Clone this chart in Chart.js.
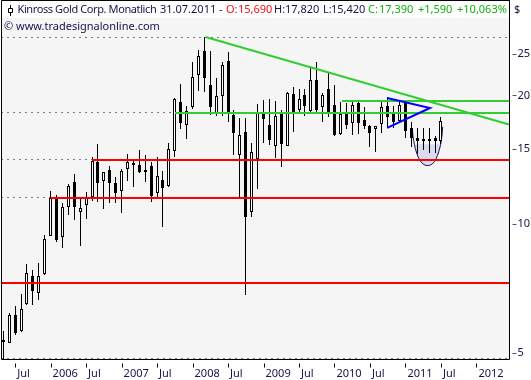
<!DOCTYPE html>
<html>
<head>
    <title>Kinross Gold Corp. Monatlich</title>
    <script src="https://cdn.jsdelivr.net/npm/chart.js"></script>
    <style>
        html, body { margin: 0; padding: 0; background: #fff; }
        canvas { display: block; }
    </style>
</head>
<body>
    <canvas id="priceChart" width="531" height="380"></canvas>

    <script>
        // Monthly candles, May 2005 to Jul 2011
        const opens = [5.37, 5.28, 6.14, 5.63, 6.51, 7.58, 6.90, 7.66, 9.39, 11.52, 9.34, 10.97, 12.55, 10.68, 11.09,
            11.58, 13.98, 12.62, 13.39, 12.49, 11.96, 13.46, 13.90, 13.76, 13.39, 13.68, 11.83, 12.69, 12.29, 14.83,
            19.31, 17.06, 18.79, 22.33, 25.41, 21.16, 18.20, 19.94, 24.07, 18.00, 14.51, 16.43, 10.68, 14.21, 18.20,
            17.06, 15.24, 18.10, 15.24, 20.16, 18.49, 20.05, 18.39, 21.73, 18.79, 20.71, 19.00, 16.25, 18.10, 17.24,
            19.20, 17.52, 16.97, 16.70, 17.15, 18.90, 18.10, 17.43, 19.20, 16.79, 15.91, 15.82, 15.82, 15.91, 15.69];
        const highs = [5.63, 6.20, 6.44, 6.87, 8.08, 7.82, 8.12, 9.44, 11.96, 11.70, 11.21, 12.42, 13.11, 11.52, 11.90,
            14.36, 15.40, 13.25, 13.68, 12.90, 13.46, 14.59, 14.21, 14.91, 14.51, 13.98, 14.36, 13.32, 15.48, 19.73,
            21.27, 18.90, 23.94, 25.54, 27.39, 25.41, 21.97, 23.94, 25.27, 18.49, 17.71, 17.71, 15.48, 19.10, 19.52,
            19.62, 19.41, 18.49, 20.37, 20.93, 20.71, 20.71, 23.19, 23.94, 20.26, 22.57, 21.16, 19.31, 19.20, 19.31,
            19.31, 18.79, 17.06, 16.97, 19.31, 19.83, 18.90, 19.31, 19.31, 17.34, 16.79, 16.79, 16.79, 16.08, 17.82];
        const lows = [4.84, 5.28, 5.51, 5.60, 6.48, 6.48, 6.65, 7.62, 9.39, 9.09, 8.80, 10.51, 10.23, 8.90, 10.29,
            11.33, 11.27, 10.85, 11.21, 11.21, 10.62, 12.62, 12.22, 13.18, 12.55, 11.27, 11.52, 9.85, 12.22, 14.36,
            16.70, 15.82, 18.59, 20.49, 20.37, 18.00, 17.91, 17.91, 17.34, 14.51, 11.52, 6.83, 10.40, 12.09, 15.48,
            15.32, 14.28, 13.61, 15.24, 16.43, 18.29, 17.91, 18.29, 18.29, 17.34, 17.81, 16.08, 16.17, 16.70, 16.17,
            16.25, 16.70, 15.16, 14.75, 16.34, 16.79, 16.79, 17.34, 15.91, 15.16, 14.59, 14.91, 14.67, 14.67, 15.42];
        const closes = [5.35, 6.14, 5.57, 6.34, 7.70, 6.98, 7.58, 9.24, 11.52, 9.19, 10.97, 12.29, 10.97, 10.91, 11.52,
            14.05, 12.49, 13.25, 12.49, 11.83, 13.32, 13.98, 13.76, 13.25, 13.25, 11.64, 12.97, 12.16, 14.99, 19.62,
            17.24, 18.39, 22.09, 24.73, 21.97, 18.79, 19.94, 23.56, 18.20, 16.34, 16.17, 10.40, 14.75, 18.29, 17.62,
            15.74, 17.91, 15.40, 20.26, 18.29, 19.62, 18.90, 21.73, 18.49, 20.05, 18.29, 16.17, 18.10, 17.06, 19.00,
            17.24, 16.97, 16.34, 16.97, 18.79, 17.81, 17.34, 19.00, 16.52, 15.91, 15.65, 15.74, 15.74, 15.65, 17.39];

        const xTicks = [2, 8, 14, 20, 26, 32, 38, 44, 50, 56, 62, 68, 74, 80];
        const xLabels = ['Jul', '2006', 'Jul', '2007', 'Jul', '2008', 'Jul', '2009', 'Jul', '2010', 'Jul', '2011', 'Jul', '2012'];
        const yTicks = [5, 10, 15, 20, 25];

        // Hand drawn lines: [month index, price]
        const xMin = -0.304;
        const xMax = 85.59;
        const greenLow = [[29.03, 18.19], [xMax, 18.19]];
        const greenHigh = [[57.27, 19.41], [xMax, 19.41]];
        const greenFalling = [[34.19, 27.39], [85.5, 17.11]];
        const redHigh = [[15, 14.13], [xMax, 14.13]];
        const redMid = [[8, 11.52], [xMax, 11.52]];
        const redLow = [[xMin, 7.29], [xMax, 7.29]];
        const dottedLines = [
            [[xMin, 27.32], [xMax, 27.32]],
            [[xMin, 18.24], [29.03, 18.24]],
            [[xMin, 14.17], [15, 14.17]],
            [[xMin, 11.55], [8, 11.55]],
            [[xMin, 4.854], [xMax, 4.854]]
        ];
        const blueWedge = [[64.9, 19.73], [72.15, 18.69], [64.9, 16.79]];
        const cupArc = [[69.16, 16.76], [69.28, 16.02], [69.5, 15.38], [69.9, 14.65], [70.46, 14.08], [71.14, 13.78],
            [71.86, 13.71], [72.54, 13.83], [73.16, 14.21], [73.62, 14.77], [73.96, 15.38], [74.18, 16.17], [74.3, 16.9]];
        const cupFillTop = 15.38;

        const ink = '#14144a';
        const textFont = '11px "Noto Sans"';

        function toPoints(line) {
            return line.map(p => ({x: p[0], y: p[1]}));
        }

        function lineSet(line, color, width, order, extra) {
            return Object.assign({
                type: 'line',
                data: toPoints(line),
                borderColor: color,
                borderWidth: width,
                pointRadius: 0,
                fill: false,
                order: order
            }, extra || {});
        }

        const candleMonths = opens.map((o, i) => i);

        // Keeps candles on whole pixels, the reference has no soft edges
        const snapCandles = {
            id: 'snapCandles',
            beforeDatasetsDraw(chart) {
                chart.getSortedVisibleDatasetMetas().forEach(meta => {
                    if (meta.type !== 'bar') return;
                    meta.data.forEach(bar => {
                        bar.x = Math.floor(bar.x) + 0.5;
                        const top = Math.round(Math.min(bar.y, bar.base));
                        let bottom = Math.round(Math.max(bar.y, bar.base));
                        if (bottom - top < 2) bottom = top + 2;
                        bar.y = top;
                        bar.base = bottom;
                    });
                });
            }
        };

        function drawText(ctx, parts) {
            parts.forEach(p => {
                ctx.fillStyle = p[3] || ink;
                ctx.letterSpacing = p[4] || '0px';
                ctx.fillText(p[0], p[1], p[2]);
            });
        }

        const frame = {
            id: 'frame',
            beforeDraw(chart) {
                const {ctx, chartArea: area} = chart;
                ctx.save();
                ctx.fillStyle = '#fff';
                ctx.fillRect(0, 0, chart.width, chart.height);
                ctx.fillStyle = '#f5f5f5';
                ctx.fillRect(area.left, area.top, area.right - area.left, area.bottom - area.top);
                ctx.restore();
            },
            afterDraw(chart) {
                const {ctx, chartArea: area, scales} = chart;
                ctx.save();
                ctx.strokeStyle = '#000';
                ctx.lineWidth = 1;
                ctx.beginPath();
                ctx.moveTo(area.right, 0.5);
                ctx.lineTo(area.left, 0.5);
                ctx.lineTo(area.left, area.bottom);
                ctx.lineTo(area.right, area.bottom);
                ctx.lineTo(area.right, 0);
                ctx.stroke();

                // tick marks stand off from the axis
                ctx.beginPath();
                scales.x.ticks.forEach(t => {
                    const x = Math.round(scales.x.getPixelForValue(t.value)) + 0.5;
                    ctx.moveTo(x, area.bottom + 4);
                    ctx.lineTo(x, area.bottom + 8);
                });
                ctx.stroke();
                ctx.strokeStyle = '#555';
                ctx.beginPath();
                scales.y.ticks.forEach(t => {
                    const y = Math.round(scales.y.getPixelForValue(t.value)) + 0.5;
                    ctx.moveTo(area.right + 3, y);
                    ctx.lineTo(area.right + 7, y);
                });
                ctx.stroke();

                // candle icon in the header
                ctx.strokeStyle = '#000';
                ctx.beginPath();
                ctx.moveTo(10.5, 5);
                ctx.lineTo(10.5, 8);
                ctx.moveTo(10.5, 13);
                ctx.lineTo(10.5, 16);
                ctx.rect(8.5, 8.5, 4, 4);
                ctx.stroke();

                ctx.font = textFont;
                ctx.textBaseline = 'middle';
                ctx.textAlign = 'left';
                const red = '#f01010';
                const green = '#10b010';
                drawText(ctx, [
                    ['Kinross Gold Corp. Monatlich', 17.5, 10, ink, '-0.4px'],
                    ['31.07.2011', 160, 10],
                    ['-', 219, 10],
                    ['O:', 226, 10, red],
                    ['15,690', 238, 10, red],
                    ['H:', 274, 10],
                    ['17,820', 285, 10],
                    ['L:', 323, 10],
                    ['15,420', 331, 10],
                    ['C:', 368, 10, green],
                    ['17,390', 379, 10, green],
                    ['+1,590', 418, 10, green],
                    ['+10,063%', 457, 10, green],
                    ['$', 514, 10],
                    ['\u00A9 www.tradesignalonline.com', 4, 27]
                ]);
                ctx.restore();
            }
        };

        const datasets = [
            // cup shading sits behind the candles
            lineSet(cupArc.slice(2, 11), 'rgba(0,0,0,0)', 0, 30, {
                fill: {value: cupFillTop},
                backgroundColor: '#d9dcf0',
                tension: 0.3
            }),
            lineSet(cupArc, '#14144a', 1, 25, {tension: 0.3}),
            {
                type: 'bar',
                data: candleMonths.map(i => ({x: i, y: [lows[i], highs[i]]})),
                backgroundColor: '#000',
                borderWidth: 0,
                barThickness: 1,
                grouped: false,
                inflateAmount: 0,
                order: 20
            },
            {
                type: 'bar',
                data: candleMonths.map(i => ({x: i, y: [opens[i], closes[i]]})),
                backgroundColor: candleMonths.map(i => closes[i] >= opens[i] ? '#fff' : '#000'),
                borderColor: '#000',
                borderWidth: 1,
                borderSkipped: false,
                barThickness: 3,
                grouped: false,
                inflateAmount: 0,
                order: 15
            }
        ];

        dottedLines.forEach(line => {
            datasets.push(lineSet(line, '#000', 1, 12, {borderDash: [1, 5]}));
        });
        [redHigh, redMid, redLow].forEach(line => datasets.push(lineSet(line, '#ff0000', 2, 8)));
        [greenLow, greenHigh, greenFalling].forEach(line => datasets.push(lineSet(line, '#32cd32', 2, 6)));
        datasets.push(lineSet(blueWedge, '#0000ff', 2, 4));

        new Chart(document.getElementById('priceChart').getContext('2d'), {
            data: {datasets: datasets},
            plugins: [snapCandles, frame],
            options: {
                responsive: false,
                animation: false,
                events: [],
                layout: {padding: {left: 1.5, top: 18, right: 0, bottom: 0}},
                plugins: {
                    legend: {display: false},
                    tooltip: {enabled: false},
                    title: {display: false}
                },
                scales: {
                    x: {
                        type: 'linear',
                        min: xMin,
                        max: xMax,
                        offset: false,
                        grid: {display: false, drawTicks: false},
                        border: {display: false},
                        afterBuildTicks: scale => { scale.ticks = xTicks.map(v => ({value: v})); },
                        afterFit: scale => { scale.height = 20.5; },
                        ticks: {
                            callback: (value, index) => xLabels[index],
                            align: 'start',
                            labelOffset: 2,
                            padding: 8,
                            autoSkip: false,
                            maxRotation: 0,
                            color: ink,
                            font: {family: 'Noto Sans', size: 11}
                        }
                    },
                    y: {
                        type: 'logarithmic',
                        position: 'right',
                        min: 4.828,
                        max: 30.34,
                        grid: {display: false, drawTicks: false},
                        border: {display: false},
                        afterBuildTicks: scale => { scale.ticks = yTicks.map(v => ({value: v})); },
                        afterFit: scale => { scale.width = 21.5; },
                        ticks: {
                            callback: value => String(value),
                            padding: 8,
                            autoSkip: false,
                            color: ink,
                            font: {family: 'Noto Sans', size: 11}
                        }
                    }
                }
            }
        });
    </script>
</body>
</html>
